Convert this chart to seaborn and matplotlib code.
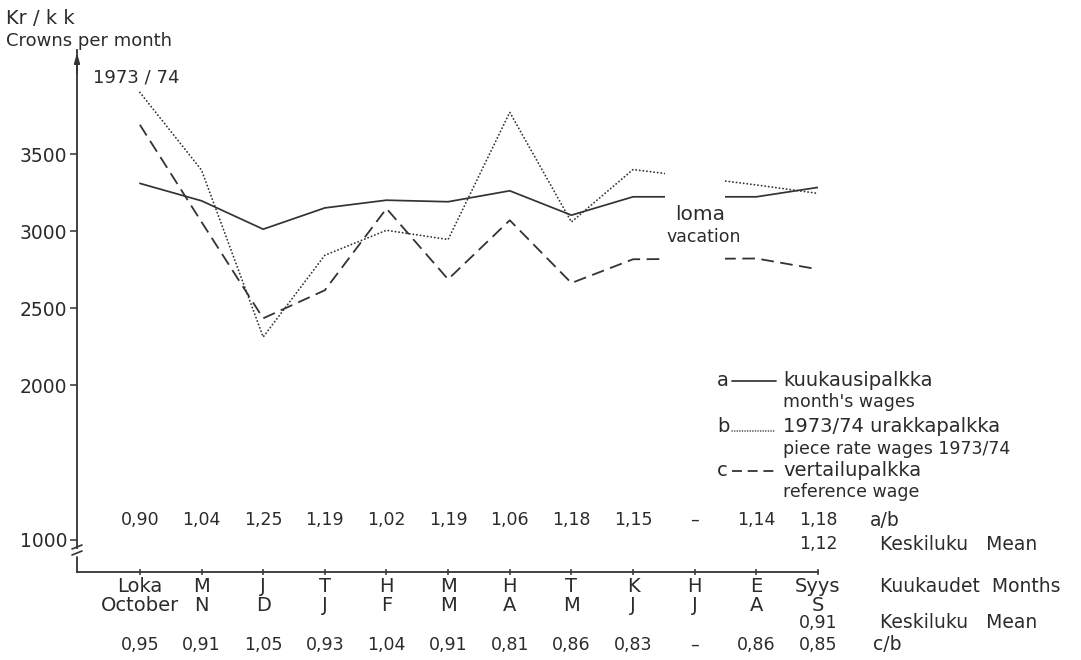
import numpy as np
import pandas as pd
import matplotlib
matplotlib.use("Agg")
import matplotlib.pyplot as plt
import seaborn as sns
from matplotlib.lines import Line2D
from matplotlib.path import Path
from matplotlib import transforms

# ---- data -------------------------------------------------------------
months_fi = ["Loka", "M", "J", "T", "H", "M", "H", "T", "K", "H", "E", "Syys"]
months_en = ["October", "N", "D", "J", "F", "M", "A", "M", "J", "J", "A", "S"]

# crowns per month; June (vacation) has no value
monthly_wage = [3310, 3197, 3013, 3151, 3201, 3191, 3262, 3104, 3223, np.nan, 3223, 3284]
piece_rate_wage = [3900, 3396, 2314, 2844, 3006, 2946, 3771, 3060, 3400, np.nan, 3300, 3245]
reference_wage = [3690, 3060, 2435, 2617, 3147, 2688, 3071, 2664, 2818, np.nan, 2823, 2753]

ratio_ab = [0.90, 1.04, 1.25, 1.19, 1.02, 1.19, 1.06, 1.18, 1.15, None, 1.14, 1.18]
ratio_cb = [0.95, 0.91, 1.05, 0.93, 1.04, 0.91, 0.81, 0.86, 0.83, None, 0.86, 0.85]
mean_ab = 1.12
mean_cb = 0.91

y_ticks = [1000, 2000, 2500, 3000, 3500]

# ---- styling ----------------------------------------------------------
sns.set_theme(style="ticks")
plt.rcParams["font.family"] = ["DejaVu Sans"]
INK = "#2b2b2b"
LINE = "#333333"

W, H = 1081, 660
fig = plt.figure(figsize=(W / 100, H / 100), dpi=100, facecolor="white")


def fx(px):
    return px / W


def fy(py):
    return 1 - py / H


ax = fig.add_axes([fx(77), fy(572), fx(818) - fx(77), fy(50) - fy(572)])
ax.set_facecolor("white")

df = pd.DataFrame({
    "month": np.arange(len(months_fi)),
    "a": monthly_wage,
    "b": piece_rate_wage,
    "c": reference_wage,
})

styles = {
    "a": dict(lw=1.25, linestyle="-"),
    "b": dict(lw=1.3, linestyle=(0, (0.1, 1.9)), dash_capstyle="round"),
    "c": dict(lw=1.3, linestyle=(0, (7, 3.6))),
}
for col, kw in styles.items():
    part = df[["month", col]].dropna()
    sns.lineplot(data=part, x="month", y=col, ax=ax, color=LINE,
                 errorbar=None, sort=True, legend=False, **kw)

# open a gap in every line around the vacation month
gap_lo, gap_hi = 8.52, 9.49
verts = [(-5, -1e5), (20, -1e5), (20, 1e5), (-5, 1e5), (-5, -1e5),
         (gap_lo, -1e5), (gap_lo, 1e5), (gap_hi, 1e5), (gap_hi, -1e5), (gap_lo, -1e5)]
codes = [Path.MOVETO, Path.LINETO, Path.LINETO, Path.LINETO, Path.CLOSEPOLY] * 2
hole = Path(verts, codes)
for ln in ax.lines:
    ln.set_clip_path(hole, ax.transData)

# ---- axes -------------------------------------------------------------
ax.set_xlim(-1.02, 11)
ax.set_ylim(790, 4175)
sns.despine(ax=ax)
for s in ("left", "bottom"):
    ax.spines[s].set_color(LINE)
    ax.spines[s].set_linewidth(1.3)
ax.spines["left"].set_bounds(948, 4175)

ax.set_xticks(np.arange(len(months_fi)))
ax.set_xticklabels([f"{a}\n{b}" for a, b in zip(months_fi, months_en)])
ax.set_yticks(y_ticks)
ax.set_yticklabels([str(v) for v in y_ticks])
ax.tick_params(axis="x", direction="inout", length=5, width=1.1, pad=1,
               labelsize=14, color=LINE, labelcolor=INK)
ax.tick_params(axis="y", direction="out", length=5, width=1.1, pad=2,
               labelsize=13.5, color=LINE, labelcolor=INK)
plt.setp(ax.get_xticklabels(), linespacing=1.0)
ax.set_xlabel("")
ax.set_ylabel("")

# broken y axis below 1000
ytrans = transforms.blended_transform_factory(ax.transAxes, ax.transData)
ax.add_line(Line2D([0, 0], [790, 890], transform=ytrans, color=LINE, lw=1.3, clip_on=False))
for yb in (547, 553):
    fig.add_artist(Line2D([fx(72), fx(82)], [fy(yb + 2), fy(yb - 2)],
                          transform=fig.transFigure, color=LINE, lw=1.2))

# arrow head on the value axis
ax.annotate("", xy=(0, 1.0), xytext=(0, 0.95), xycoords="axes fraction",
            arrowprops=dict(arrowstyle="-|>,head_length=0.5,head_width=0.14",
                            color=LINE, lw=1.2))

# ---- ratio rows -------------------------------------------------------
xt = transforms.blended_transform_factory(ax.transData, fig.transFigure)


def fmt(v):
    return "–" if v is None else f"{v:.2f}".replace(".", ",")


for i, v in enumerate(ratio_ab):
    ax.text(i, fy(520), fmt(v), transform=xt, ha="center", va="center",
            fontsize=12.5, color=INK, clip_on=False)
for i, v in enumerate(ratio_cb):
    ax.text(i, fy(645), fmt(v), transform=xt, ha="center", va="center",
            fontsize=12.5, color=INK, clip_on=False)
ax.text(11, fy(544), fmt(mean_ab), transform=xt, ha="center", va="center",
        fontsize=12.5, color=INK, clip_on=False)
ax.text(11, fy(623), fmt(mean_cb), transform=xt, ha="center", va="center",
        fontsize=12.5, color=INK, clip_on=False)

side = dict(ha="left", va="center", fontsize=13.5, color=INK)
fig.text(fx(870), fy(520), "a/b", **side)
fig.text(fx(880), fy(544), "Keskiluku   Mean", **side)
fig.text(fx(880), fy(587), "Kuukaudet  Months", **side)
fig.text(fx(880), fy(623), "Keskiluku   Mean", **side)
fig.text(fx(873), fy(645), "c/b", **side)

# ---- titles and annotations ------------------------------------------
fig.text(fx(6), fy(18), "Kr / k k", ha="left", va="center", fontsize=14, color=INK)
fig.text(fx(6), fy(41), "Crowns per month", ha="left", va="center", fontsize=13, color=INK)
fig.text(fx(93), fy(78), "1973 / 74", ha="left", va="center", fontsize=13, color=INK)
fig.text(fx(700), fy(214), "loma", ha="center", va="center", fontsize=14.5, color=INK)
fig.text(fx(704), fy(237), "vacation", ha="center", va="center", fontsize=12.5, color=INK)

# ---- key ---------------------------------------------------------------
key = [
    ("a", "kuukausipalkka", "month's wages", 381, dict(linestyle="-", lw=1.25)),
    ("b", "1973/74 urakkapalkka", "piece rate wages 1973/74", 428,
     dict(linestyle=(0, (0.1, 1.6)), lw=1.1, dash_capstyle="round")),
    ("c", "vertailupalkka", "reference wage", 471, dict(linestyle=(0, (5.5, 3.2)), lw=1.3)),
]
for letter, main, sub, yk, kw in key:
    fig.text(fx(717), fy(yk - 1), letter, ha="left", va="center", fontsize=14, color=INK)
    off = 3 if letter == "b" else 0
    fig.add_artist(Line2D([fx(732), fx(776)], [fy(yk + off), fy(yk + off)],
                          transform=fig.transFigure, color=LINE, **kw))
    fig.text(fx(783), fy(yk - 1), main, ha="left", va="center", fontsize=14, color=INK)
    fig.text(fx(783), fy(yk + 21), sub, ha="left", va="center", fontsize=12.5, color=INK)

fig.savefig("out.png", dpi=100, facecolor="white")
